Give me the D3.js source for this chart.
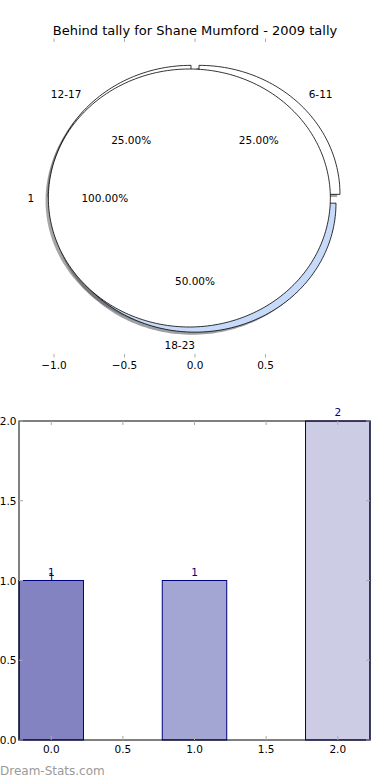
<html>
<head>
<meta charset="utf-8">
<script src="https://d3js.org/d3.v7.min.js"></script>
<style>
  body { margin: 0; background: #fff; }
  text { font-family: "DejaVu Sans", sans-serif; }
</style>
</head>
<body>
<svg id="svg" width="390" height="780"></svg>
<script>
// **** Data ****
const pieTitle = "Behind tally for Shane Mumford - 2009 tally"
const innerLabels = ["1"]
const innerValues = [4]
const innerColors = ["#ffffff"]
const outerLabels = ["6-11", "12-17", "18-23"]
const outerValues = [1, 1, 2]
const outerColors = ["#ffffff", "#ffffff", "#c8dafa"]
const pieTicks = [-1.0, -0.5, 0.0, 0.5]

const barCats = [0, 1, 2]
const barValues = [1, 1, 2]
const barColors = ["#8383c1", "#a3a5d2", "#cccce5"]
const barTextCats = [0, 0, 1, 2]
const barTextValues = [1, 1, 1, 2]
const barTicksX = [0, 0.5, 1, 1.5, 2]
const barTicksY = [0, 0.5, 1, 1.5, 2]
const watermark = "Dream-Stats.com"

const svg = d3.select('#svg')
const fmt = d3.format('.1f')
const tickGray = '#aaaaaa'

// **** Pie part ****
const px = d3.scaleLinear().domain([0, 1]).range([195, 336])
const py = d3.scaleLinear().domain([0, 1]).range([198, 69])
const explode = 0.04
const pie = d3.pie().sort(null).startAngle(0).endAngle(2 * Math.PI)

function wedgePath(cx, cy, r, a0, a1) {
    const full = Math.abs(a1 - a0 - 2 * Math.PI) < 1e-9
    const n = Math.ceil((a1 - a0) / (Math.PI / 120))
    const pts = full ? [] : [[cx, cy]]
    for (let i = 0; i <= n; i++) {
        const a = a0 + (a1 - a0) * i / n
        pts.push([cx + r * Math.cos(a), cy + r * Math.sin(a)])
    }
    return d3.line().x(d => px(d[0])).y(d => py(d[1]))(pts) + 'Z'
}

function layoutPie(values, labels, colors) {
    return pie(values).map((d, i) => {
        const mid = (d.startAngle + d.endAngle) / 2
        return {
            a0: d.startAngle, a1: d.endAngle, mid: mid,
            cx: explode * Math.cos(mid), cy: explode * Math.sin(mid),
            label: labels[i], color: colors[i],
            pct: (d.value / d3.sum(values) * 100).toFixed(2) + '%'
        }
    })
}

const outer = layoutPie(outerValues, outerLabels, outerColors)
const inner = layoutPie(innerValues, innerLabels, innerColors)
const all = outer.concat(inner)

function shade(c) {
    const k = d3.rgb(c)
    return d3.rgb(k.r * 0.3, k.g * 0.3, k.b * 0.3).toString()
}

// shadows first, then wedges (outer ring, then inner disk)
svg.append('g').selectAll('path').data(all).enter().append('path')
    .attr('d', d => wedgePath(d.cx - 0.02, d.cy - 0.02, 1, d.a0, d.a1))
    .attr('fill', d => shade(d.color))
    .attr('fill-opacity', 0.5)

svg.append('g').selectAll('path').data(all).enter().append('path')
    .attr('d', d => wedgePath(d.cx, d.cy, 1, d.a0, d.a1))
    .attr('fill', d => d.color)
    .attr('stroke', '#000')
    .attr('stroke-width', 0.8)

const pieText = svg.append('g').attr('font-size', 10.5).attr('fill', '#000')
pieText.selectAll('.lab').data(all).enter().append('text')
    .attr('x', d => px(d.cx + 1.1 * Math.cos(d.mid)))
    .attr('y', d => py(d.cy + 1.1 * Math.sin(d.mid)))
    .attr('text-anchor', d => (d.cx + 1.1 * Math.cos(d.mid)) > 0 ? 'start' : 'end')
    .attr('dominant-baseline', 'central')
    .text(d => d.label)
pieText.selectAll('.pct').data(all).enter().append('text')
    .attr('x', d => px(d.cx + 0.6 * Math.cos(d.mid)))
    .attr('y', d => py(d.cy + 0.6 * Math.sin(d.mid)))
    .attr('text-anchor', 'middle')
    .attr('dominant-baseline', 'central')
    .text(d => d.pct)

svg.append('text')
    .attr('x', 195).attr('y', 30)
    .attr('text-anchor', 'middle')
    .attr('dominant-baseline', 'central')
    .attr('font-size', 13)
    .text(pieTitle)

// hidden-spine axis ticks for the pie
const pieTop = 38.5, pieBottom = 357.5
const pt = svg.append('g')
pt.selectAll('.tb').data(pieTicks).enter().append('line')
    .attr('x1', d => px(d)).attr('x2', d => px(d))
    .attr('y1', pieBottom).attr('y2', pieBottom - 3.5)
    .attr('stroke', tickGray)
pt.selectAll('.tt').data(pieTicks).enter().append('line')
    .attr('x1', d => px(d)).attr('x2', d => px(d))
    .attr('y1', pieTop).attr('y2', pieTop + 3.5)
    .attr('stroke', tickGray)
pt.selectAll('text').data(pieTicks).enter().append('text')
    .attr('x', d => px(d)).attr('y', 365)
    .attr('text-anchor', 'middle')
    .attr('dominant-baseline', 'central')
    .attr('font-size', 10.5)
    .text(d => fmt(d))

// **** Bar part ****
const bx = d3.scaleLinear().domain([-0.225, 2.225]).range([19, 370])
const by = d3.scaleLinear().domain([0, 2]).range([740, 421])
const barW = 0.45

svg.append('g').selectAll('rect').data(barValues).enter().append('rect')
    .attr('x', (d, i) => bx(barCats[i] - barW / 2))
    .attr('y', d => by(d))
    .attr('width', bx(barW) - bx(0))
    .attr('height', d => by(0) - by(d))
    .attr('fill', (d, i) => barColors[i])
    .attr('stroke', '#000080')
    .attr('stroke-width', 1)

const ax = svg.append('g')
ax.append('rect')
    .attr('x', bx(-0.225)).attr('y', by(2))
    .attr('width', bx(2.225) - bx(-0.225)).attr('height', by(0) - by(2))
    .attr('fill', 'none').attr('stroke', '#000').attr('stroke-width', 1)

barTicksX.forEach(t => {
    ax.append('line').attr('x1', bx(t)).attr('x2', bx(t))
        .attr('y1', by(0)).attr('y2', by(0) - 4).attr('stroke', tickGray)
    ax.append('line').attr('x1', bx(t)).attr('x2', bx(t))
        .attr('y1', by(2)).attr('y2', by(2) + 4).attr('stroke', tickGray)
    ax.append('text').attr('x', bx(t)).attr('y', 749)
        .attr('text-anchor', 'middle').attr('dominant-baseline', 'central')
        .attr('font-size', 10.5).text(fmt(t))
})
barTicksY.forEach(t => {
    ax.append('line').attr('x1', bx(-0.225)).attr('x2', bx(-0.225) + 4)
        .attr('y1', by(t)).attr('y2', by(t)).attr('stroke', tickGray)
    ax.append('line').attr('x1', bx(2.225)).attr('x2', bx(2.225) - 4)
        .attr('y1', by(t)).attr('y2', by(t)).attr('stroke', tickGray)
    ax.append('text').attr('x', 16.5).attr('y', by(t))
        .attr('text-anchor', 'end').attr('dominant-baseline', 'central')
        .attr('font-size', 10.5).text(fmt(t))
})

// value labels, the repeated one at bar 0 sits a bit lower
svg.append('g').selectAll('text').data(barTextValues).enter().append('text')
    .attr('x', (d, i) => bx(barTextCats[i]))
    .attr('y', (d, i) => by(d) - (i === 1 ? 4 : 9))
    .attr('text-anchor', 'middle')
    .attr('dominant-baseline', 'central')
    .attr('font-size', 10.5)
    .attr('fill', '#000080')
    .text(d => d)

svg.append('text')
    .attr('x', 0).attr('y', 771)
    .attr('dominant-baseline', 'central')
    .attr('font-size', 12)
    .attr('fill', '#9a9a9a')
    .text(watermark)
</script>
</body>
</html>
